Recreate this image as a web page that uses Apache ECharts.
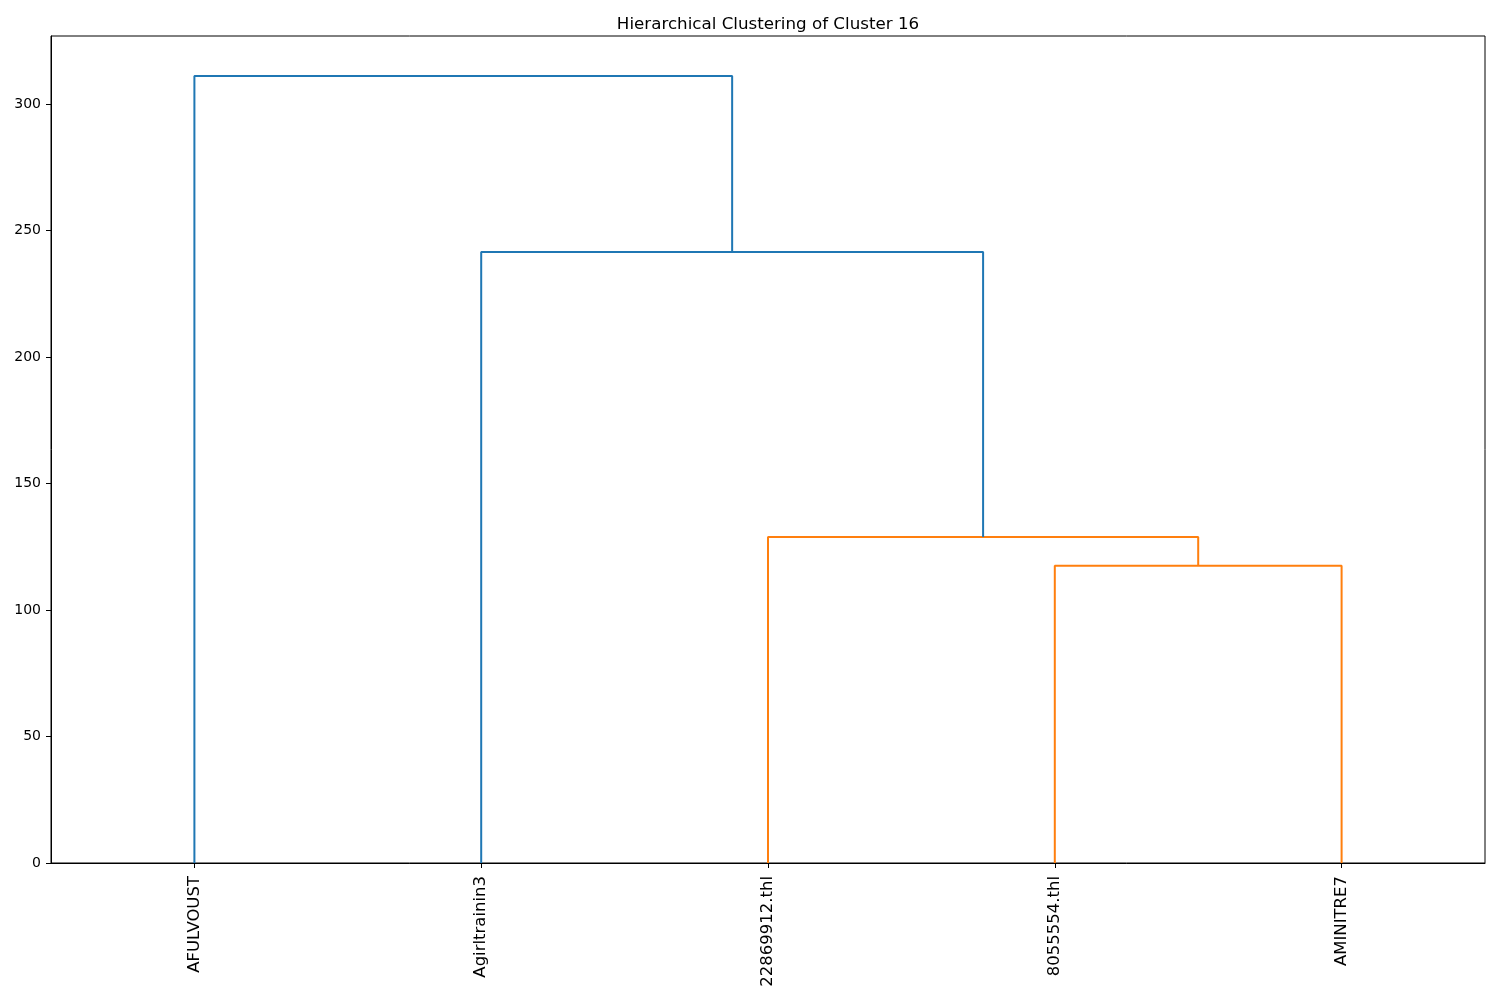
<!DOCTYPE html>
<html>
<head>
<meta charset="utf-8">
<script src="https://cdn.jsdelivr.net/npm/echarts@6/dist/echarts.min.js"></script>
<style>html,body{margin:0;padding:0;background:#fff;}#c{width:1500px;height:1000px;}</style>
</head>
<body>
<div id="c"></div>
<script>
// Leaves in dendrogram order
var leafNames = ['AFULVOUST', 'Agirltrainin3', '22869912.thl', '8055554.thl', 'AMINITRE7'];
// Merges: [left child, right child] (leaf index 0..4, or 5+ = earlier merge)
var mergeLeft = [3, 2, 1, 0];
var mergeRight = [4, 5, 6, 7];
var mergeHeights = [117.5, 128.9, 241.5, 311.1];
var mergeColors = ['#ff7f0e', '#ff7f0e', '#1f77b4', '#1f77b4'];
var yTicks = [0, 50, 100, 150, 200, 250, 300];

// Node positions (x, height) computed from structure
var nodeX = leafNames.map(function (_, i) { return 5 + 10 * i; });
var nodeH = leafNames.map(function () { return 0; });
var series = [];
for (var m = 0; m < mergeHeights.length; m++) {
  var a = mergeLeft[m], b = mergeRight[m], h = mergeHeights[m];
  series.push({
    type: 'line',
    data: [[nodeX[a], nodeH[a]], [nodeX[a], h], [nodeX[b], h], [nodeX[b], nodeH[b]]],
    symbol: 'none',
    lineStyle: { color: mergeColors[m], width: 2 },
    silent: true,
    animation: false
  });
  nodeX.push((nodeX[a] + nodeX[b]) / 2);
  nodeH.push(h);
}
var leafTicks = leafNames.map(function (_, i) { return 5 + 10 * i; });

var chart = echarts.init(document.getElementById('c'));
chart.setOption({
  animation: false,
  title: {
    text: 'Hierarchical Clustering of Cluster 16',
    left: 763, textAlign: 'center', top: 11,
    textStyle: { fontFamily: 'DejaVu Sans', fontSize: 16.7, fontWeight: 'normal', color: '#000' }
  },
  grid: { left: 51, right: 15, top: 36, bottom: 137, show: true, borderColor: '#000', borderWidth: 1, containLabel: false },
  xAxis: {
    type: 'value', min: 0, max: 50,
    splitLine: { show: false },
    axisLine: { show: true, lineStyle: { color: '#000', width: 1 } },
    axisTick: { show: true, customValues: leafTicks, length: 5, lineStyle: { color: '#000' } },
    axisLabel: {
      customValues: leafTicks, rotate: 90, margin: 13,
      fontFamily: 'DejaVu Sans', fontSize: 16.5, color: '#000',
      formatter: function (v) { return leafNames[Math.round((v - 5) / 10)] || ''; }
    }
  },
  yAxis: {
    type: 'value', min: 0, max: 326.9,
    splitLine: { show: false },
    axisLine: { show: true, lineStyle: { color: '#000', width: 1 } },
    axisTick: { show: true, customValues: yTicks, length: 5, lineStyle: { color: '#000' } },
    axisLabel: {
      customValues: yTicks, margin: 10,
      fontFamily: 'DejaVu Sans', fontSize: 14, color: '#000'
    }
  },
  series: series
});
</script>
</body>
</html>
